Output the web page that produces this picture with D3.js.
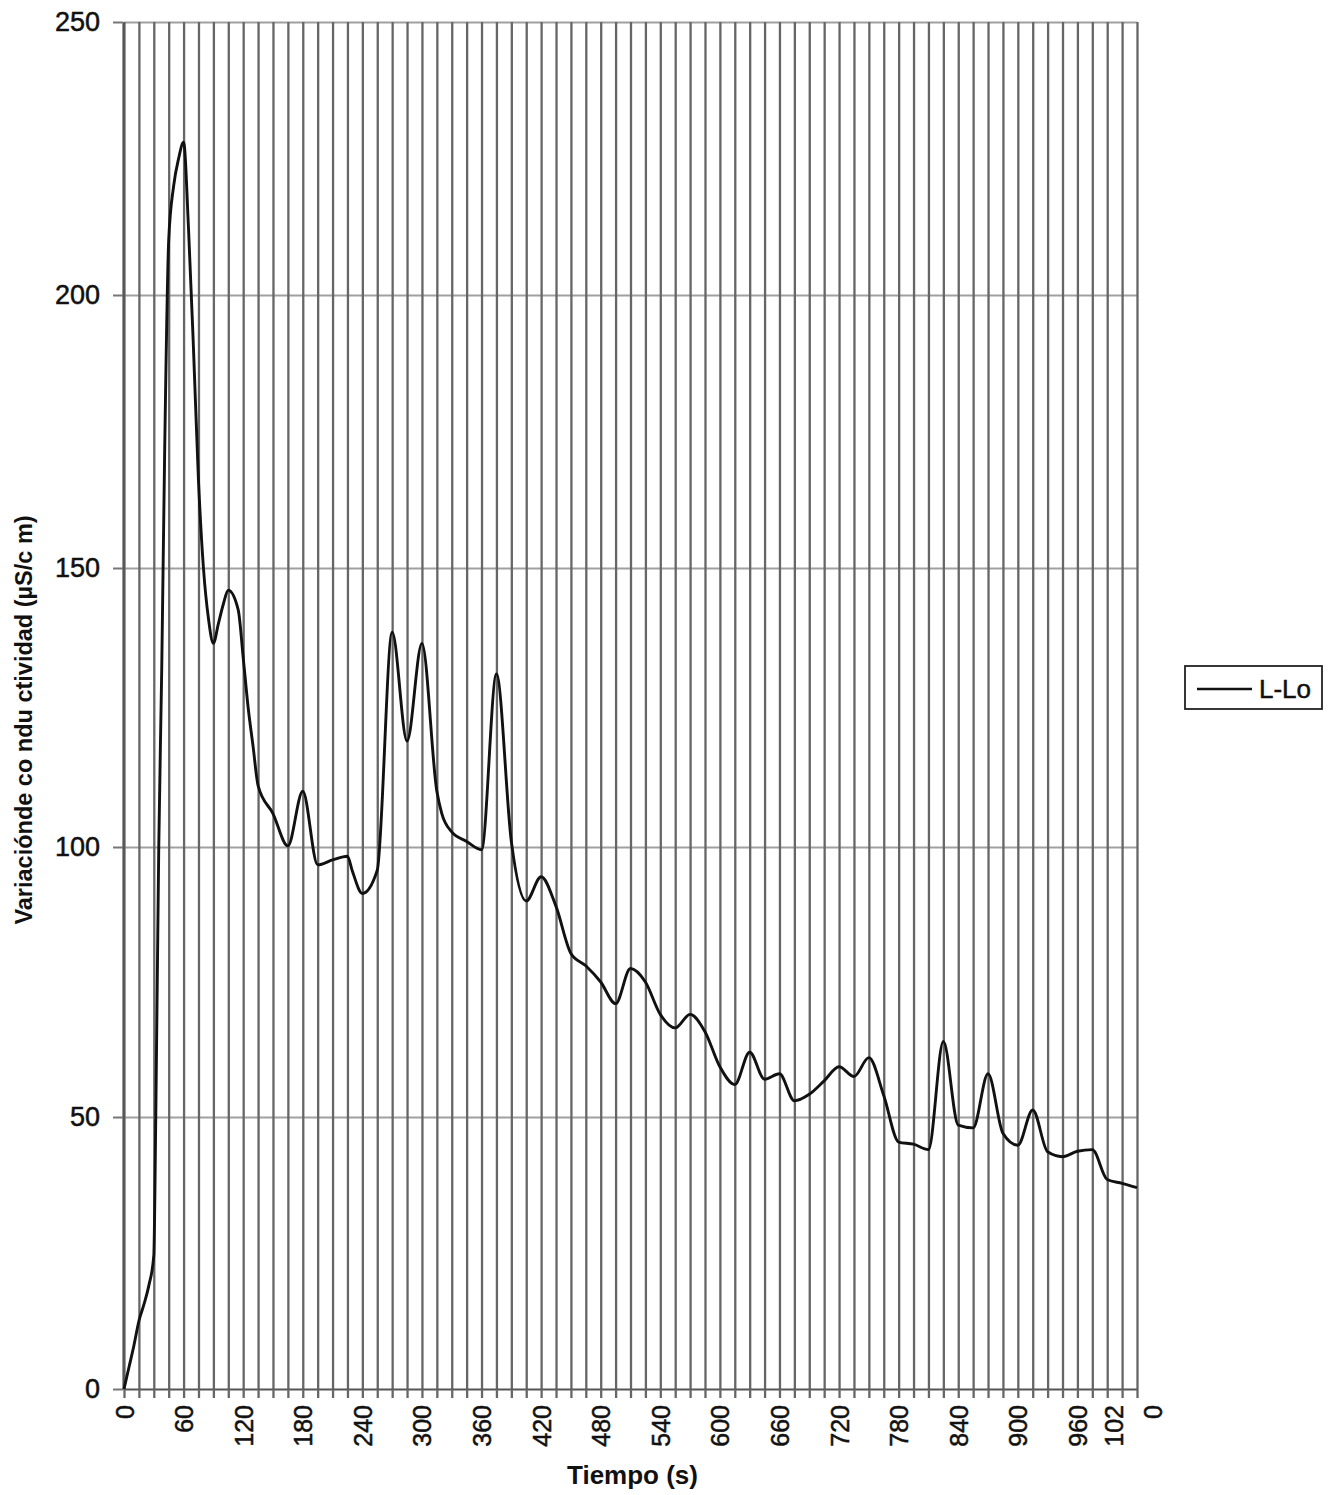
<!DOCTYPE html>
<html>
<head>
<meta charset="utf-8">
<script src="https://cdn.jsdelivr.net/npm/d3@7/dist/d3.min.js"></script>
<style>
  html, body { margin: 0; padding: 0; background: #ffffff; }
  svg { display: block; font-family: "Liberation Sans", Arial, Helvetica, sans-serif; }
</style>
</head>
<body>
<svg id="chart" width="1332" height="1495"></svg>
<script>
// Conductivity change (L - Lo) over time
const times = [0, 5, 10, 15, 20, 25, 30, 32, 35, 38, 41, 45, 50, 55, 60, 65, 70, 75, 80, 85,
  90, 95, 100, 105, 115, 120, 125, 130, 135, 150, 165, 180, 195, 210, 225, 230, 240, 255,
  270, 285, 300, 315, 320, 330, 345, 360, 375, 390, 405, 420, 435, 450, 465, 480, 495,
  510, 525, 540, 555, 570, 585, 600, 615, 630, 645, 660, 675, 690, 705, 720, 735, 750,
  765, 780, 795, 810, 825, 840, 855, 870, 885, 900, 915, 930, 945, 960, 975, 990, 1005, 1020];
const values = [0, 4, 8, 12.5, 15.5, 19, 24.5, 50, 100, 132, 172, 210, 220, 225, 228, 212, 190, 166, 150, 141,
  136.5, 140, 143.5, 146, 142.5, 134, 125, 118, 111, 106, 100.2, 110, 96.7, 97.6, 98.3, 95.5, 91.4, 95.7,
  138.5, 119, 136.5, 110, 106, 102.7, 101, 99.5, 131, 101, 90, 94.5, 89, 80.3, 78, 75, 71,
  77.5, 75, 69, 66.5, 69, 65.8, 59.3, 56, 62, 57, 58, 53, 54.2, 56.7, 59.3, 57.5, 61,
  54, 45.4, 45, 44, 64, 48.5, 48, 58, 47, 44.8, 51.3, 43.6, 42.7, 43.7, 44, 38.5, 37.8, 37];

const seriesName = "L-Lo";
const xTickStep = 15;          // one tick / grid line per category
const xLabelStep = 60;         // labelled every fourth category
const xMax = 1020;
const yTicks = [0, 50, 100, 150, 200, 250];
const xTitle = "Tiempo (s)";
const yTitle = "Variaciónde co ndu ctividad (µS/c m)";

const svg = d3.select("#chart");
const plotLeft = 124, plotRight = 1137, plotTop = 22, plotBottom = 1389;

const x = d3.scaleLinear().domain([0, xMax]).range([plotLeft, plotRight]);
const y = d3.scaleLinear().domain(yTicks).range([plotBottom, 1117, 847, 568, 295, plotTop]);

const xTickValues = d3.range(0, xMax + 1, xTickStep);

// horizontal grid lines
svg.append("g")
  .attr("transform", `translate(${plotLeft},0)`)
  .call(d3.axisLeft(y).tickValues(yTicks.slice(1)).tickSize(-(plotRight - plotLeft)).tickFormat(""))
  .call(g => g.select(".domain").remove())
  .call(g => g.selectAll("line").attr("stroke", "#a0a0a0").attr("stroke-width", 2));

// vertical grid lines, one per category
svg.append("g")
  .attr("transform", `translate(0,${plotBottom})`)
  .call(d3.axisBottom(x).tickValues(xTickValues).tickSize(-(plotBottom - plotTop)).tickFormat(""))
  .call(g => g.select(".domain").remove())
  .call(g => g.selectAll("line").attr("stroke", "#666").attr("stroke-width", 2.3));

// x axis
const xAxis = svg.append("g")
  .attr("transform", `translate(0,${plotBottom})`)
  .call(d3.axisBottom(x).tickValues(xTickValues).tickSize(9).tickSizeOuter(0)
    .tickFormat(d => d % xLabelStep === 0 ? String(d) : ""));
xAxis.select(".domain").attr("stroke", "#555").attr("stroke-width", 2.2);
xAxis.selectAll(".tick line").attr("stroke", "#666").attr("stroke-width", 2.3);
xAxis.selectAll(".tick text")
  .attr("transform", "rotate(-90)")
  .attr("text-anchor", "end")
  .attr("x", -16).attr("y", 0).attr("dy", "0.36em")
  .attr("font-size", 25).attr("fill", "#111")
  .attr("stroke", "#111").attr("stroke-width", 0.5);
// the last label wraps onto a second line
xAxis.selectAll(".tick text").filter(d => d === xMax).each(function(d) {
  const s = String(d);
  const t = d3.select(this).text(null).attr("dy", null);
  t.append("tspan").attr("x", -16).attr("dy", "-0.6em").text(s.slice(0, -1));
  t.append("tspan").attr("x", -16).attr("dy", "1.56em").text(s.slice(-1));
});

// y axis
const yAxis = svg.append("g")
  .attr("transform", `translate(${plotLeft - 1},0)`)
  .call(d3.axisLeft(y).tickValues(yTicks).tickSize(10).tickPadding(13).tickSizeOuter(0));
yAxis.select(".domain").attr("stroke", "#555").attr("stroke-width", 2.2);
yAxis.selectAll(".tick line").attr("stroke", "#777").attr("stroke-width", 2);
yAxis.selectAll(".tick text").attr("font-size", 27).attr("fill", "#111")
  .attr("stroke", "#111").attr("stroke-width", 0.5);

// data line
const data = times.map((t, i) => ({ t, v: values[i] }));
svg.append("path")
  .datum(data)
  .attr("fill", "none")
  .attr("stroke", "#111")
  .attr("stroke-width", 2.9)
  .attr("stroke-linejoin", "round")
  .attr("d", d3.line().curve(d3.curveMonotoneX).x(d => x(d.t)).y(d => y(d.v)));

// axis titles
svg.append("text")
  .attr("x", (plotLeft + plotRight) / 2 + 2).attr("y", 1484)
  .attr("text-anchor", "middle")
  .attr("font-size", 26).attr("font-weight", "bold").attr("fill", "#111")
  .text(xTitle);

svg.append("text")
  .attr("transform", "translate(32,720) rotate(-90)")
  .attr("text-anchor", "middle")
  .attr("font-size", 23.5).attr("font-weight", "bold").attr("fill", "#111")
  .text(yTitle);

// legend
const legend = svg.append("g").attr("transform", "translate(1185,666)");
legend.append("rect")
  .attr("width", 137).attr("height", 43)
  .attr("fill", "#fff").attr("stroke", "#222").attr("stroke-width", 1.8);
legend.append("line")
  .attr("x1", 12).attr("x2", 67).attr("y1", 23).attr("y2", 23)
  .attr("stroke", "#111").attr("stroke-width", 2.4);
legend.append("text")
  .attr("x", 74).attr("y", 32)
  .attr("font-size", 26).attr("fill", "#111")
  .attr("stroke", "#111").attr("stroke-width", 0.5)
  .text(seriesName);
</script>
</body>
</html>
